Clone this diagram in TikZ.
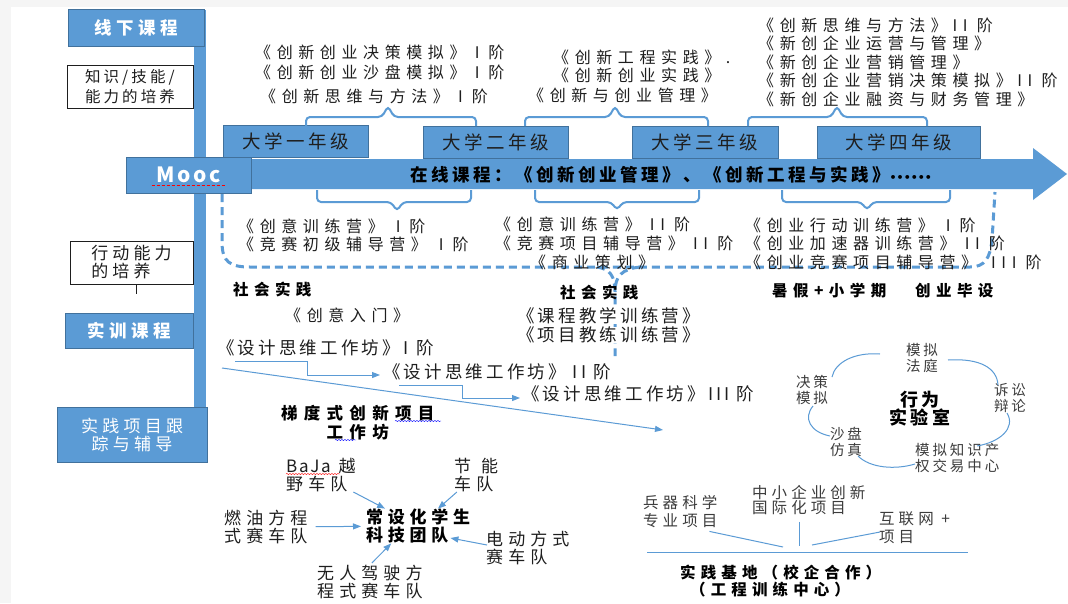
\documentclass[tikz,border=0pt]{standalone}
\usepackage{fontspec}
\setmainfont{Noto Sans CJK SC}
\newfontfamily\dejavu{DejaVu Sans}
\usetikzlibrary{arrows.meta, decorations.pathmorphing}

\definecolor{boxblue}{RGB}{91,155,213}
\definecolor{boxedge}{RGB}{65,113,156}
\definecolor{darktxt}{RGB}{30,30,30}
\definecolor{greytxt}{RGB}{60,60,60}

\tikzset{
  bluebox/.style={draw=boxedge, fill=boxblue, line width=0.8pt, text=white, inner sep=0pt, align=center,
    font=\fontsize{17.5}{18}\selectfont\bfseries\addfontfeature{LetterSpace=25}},
  yearbox/.style={draw=boxedge, fill=boxblue, line width=0.8pt, text=darktxt, inner sep=0pt,
    minimum height=32, font=\fontsize{18.5}{20}\selectfont\addfontfeature{LetterSpace=19}},
  whitebox/.style={draw=darktxt, line width=0.8pt, inner sep=0pt, align=left, text=darktxt},
  course/.style={anchor=west, inner sep=0pt, text=darktxt,
    font=\fontsize{16}{18}\selectfont\addfontfeature{LetterSpace=35}},
  workshop/.style={anchor=west, inner sep=0pt, text=darktxt,
    font=\fontsize{17.5}{19}\selectfont\addfontfeature{LetterSpace=18}},
  boldlabel/.style={anchor=west, inner sep=0pt, text=black, align=center,
    font=\fontsize{15.5}{19}\selectfont\bfseries\addfontfeature{LetterSpace=35}},
  teamtext/.style={anchor=west, inner sep=0pt, text=darktxt, align=left,
    font=\fontsize{17}{18}\selectfont\addfontfeature{LetterSpace=30}},
  labtext/.style={inner sep=0pt, text=greytxt, align=left,
    font=\fontsize{14.5}{16}\selectfont\addfontfeature{LetterSpace=20}},
  basetext/.style={anchor=west, inner sep=0pt, text=greytxt, align=left,
    font=\fontsize{15.5}{18}\selectfont\addfontfeature{LetterSpace=26}},
  yearbrace/.style={draw=boxblue, line width=2pt, rounded corners=4pt},
  dashline/.style={draw=boxblue, line width=3pt, dash pattern=on 8pt off 5pt},
  arr/.style={draw=boxblue, line width=1pt, -{Triangle[length=8pt,width=6pt]}},
  thinline/.style={draw=boxblue, line width=1pt},
}

\begin{document}
\begin{tikzpicture}[x=1pt, y=-1pt]
  \useasboundingbox (0,0) rectangle (1068,603);
  \fill[white] (0,0) rectangle (1068,603);
  \fill[black!4] (0,0) rectangle (1068,7);
  \fill[black!4] (0,0) rectangle (11,603);

  % Barra vertical
  \fill[boxblue] (194,10) rectangle (206,462);

  % Cajas de la izquierda
  \node[bluebox, minimum width=136, minimum height=37] (offline) at (136,27.5) {线下课程};
  \node[whitebox, minimum width=126, minimum height=43,
        font=\fontsize{15.5}{20}\selectfont\addfontfeature{LetterSpace=20}] (knowbox) at (130,86.5) {知识/技能/\\能力的培养};
  \node[whitebox, minimum width=123, minimum height=43,
        font=\fontsize{17}{18}\selectfont\addfontfeature{LetterSpace=24}] (actbox) at (131.5,262.5) {行动能力\\的培养};
  \draw[darktxt, line width=0.8pt] (actbox.south) ++(5,0) -- ++(0,10);
  \node[bluebox, minimum width=128, minimum height=35] (training) at (129,330.5) {实训课程};
  \node[bluebox, minimum width=150, minimum height=55,
        font=\fontsize{17}{18}\selectfont\addfontfeature{LetterSpace=25}] (tracking) at (132,434.5) {实践项目跟\\踪与辅导};

  % Flecha principal
  \fill[boxblue] (246,159) -- (1033,159) -- (1033,148) -- (1067,174) -- (1033,200) -- (1033,189) -- (246,189) -- cycle;
  \node[anchor=west, inner sep=0pt, text=black,
        font=\fontsize{17.5}{18}\selectfont\bfseries\addfontfeature{LetterSpace=20}] (online) at (410,175)
        {在线课程：《创新创业管理》、《创新工程与实践》{\dejavu\fontsize{11}{12}\selectfont ••••••}};

  % Mooc
  \node[bluebox, minimum width=125, minimum height=36,
        font=\fontsize{21}{22}\selectfont\bfseries\addfontfeature{LetterSpace=12}] (mooc) at (188.5,175) {Mooc};
  \draw[red, densely dashed, line width=0.8pt] ([shift={(-37,10)}]mooc.center) -- ([shift={(37,10)}]mooc.center);

  % Cursos por año
  \node[yearbox, minimum width=145] (year1) at (295.5,141.5) {大学一年级};
  \node[yearbox, minimum width=145] (year2) at (495.5,142) {大学二年级};
  \node[yearbox, minimum width=146] (year3) at (705,142) {大学三年级};
  \node[yearbox, minimum width=163] (year4) at (898.5,142) {大学四年级};

  % Llaves de arriba
  \draw[yearbrace] (306,126) -- (306,117) -- (382,117) -- (388,106) -- (394,117) -- (476,117) -- (476,126);
  \draw[yearbrace] (525,126) -- (525,117) -- (609,117) -- (615,106) -- (621,117) -- (708,117) -- (708,126);
  \draw[yearbrace] (748,126) -- (748,117) -- (831,117) -- (837,106) -- (843,117) -- (927,117) -- (927,126);

  % Llaves de abajo
  \draw[yearbrace] (317,190) -- (317,202) -- (391,202) -- (397,211) -- (403,202) -- (471,202) -- (471,190);
  \draw[yearbrace] (535,190) -- (535,202) -- (611,202) -- (617,210) -- (623,202) -- (699,202) -- (699,190);
  \draw[yearbrace] (782,190) -- (782,202) -- (861,202) -- (867,210) -- (873,202) -- (950,202) -- (950,190);

  % Contorno discontinuo
  \draw[dashline] (222,194) -- (222,242) .. controls (222,262) and (230,267) .. (250,267) -- (970,267)
        .. controls (985,267) and (990,258) .. (992,240) -- (995,192);
  \draw[dashline] (597,267) .. controls (610,269) and (615,276) .. (615,292) -- (615,356);
  \draw[dashline] (640,267) .. controls (622,269) and (615,276) .. (615,292);

  % Cursos de arriba
  \node[course] (c1a) at (255,52) {《创新创业决策模拟》 I\hspace{9pt}阶};
  \node[course] (c1b) at (255,72) {《创新创业沙盘模拟》 I\hspace{9pt}阶};
  \node[course] (c1c) at (260,96) {《创新思维与方法》 I\hspace{9pt}阶};
  \node[course] (c2a) at (553,57) {《创新工程实践》.};
  \node[course] (c2b) at (553,75) {《创新创业实践》};
  \node[course] (c2c) at (528,95) {《创新与创业管理》};
  \node[course] (c3a) at (758,25) {《创新思维与方法》II 阶};
  \node[course] (c3b) at (758,43.5) {《新创企业运营与管理》};
  \node[course] (c3c) at (758,62) {《新创企业营销管理》};
  \node[course] (c3d) at (758,80.5) {《新创企业营销决策模拟》II 阶};
  \node[course] (c3e) at (758,99) {《新创企业融资与财务管理》};

  % Cursos de abajo
  \node[course] (d1a) at (238,226) {《创意训练营》\hspace{12pt}I\hspace{9pt}阶};
  \node[course] (d1b) at (238,244) {《竞赛初级辅导营》\hspace{12pt}I\hspace{9pt}阶};
  \node[course] (d2a) at (495,224) {《创意训练营》 II 阶};
  \node[course] (d2b) at (495,243) {《竞赛项目辅导营》 II 阶};
  \node[course] (d2c) at (530,262) {《商业策划》};
  \node[course] (d3a) at (745,225) {《创业行动训练营》\hspace{12pt}I\hspace{9pt}阶};
  \node[course] (d3b) at (745,243) {《创业加速器训练营》 II 阶};
  \node[course] (d3c) at (745,262) {《创业竞赛项目辅导营》\hspace{14pt}III 阶};

  % Prácticas
  \node[boldlabel] (social1) at (233,289) {社会实践};
  \node[boldlabel] (social2) at (560,292) {社会实践};
  \node[boldlabel] (summer) at (772,291) {暑假+小学期};
  \node[boldlabel] (thesis) at (915,291) {创业毕设};
  \node[course] (intro) at (285,315) {《创意入门》};
  \node[workshop, fill=white] (camp1) at (517,316) {《课程教学训练营》};
  \node[workshop, fill=white] (camp2) at (517,335) {《项目教练训练营》};

  % Talleres de pensamiento de diseño
  \node[workshop] (dt1) at (217,348) {《设计思维工作坊》I\hspace{8pt}阶};
  \node[workshop] (dt2) at (383,372) {《设计思维工作坊》 II 阶};
  \node[workshop] (dt3) at (522,394) {《设计思维工作坊》III 阶};
  \draw[arr] ([shift={(18,13)}]dt1.west) -- ++(72,0) |- ([shift={(-3,3)}]dt2.west);
  \draw[arr] ([shift={(16,13)}]dt2.west) -- ++(63,0) |- ([shift={(-2,4)}]dt3.west);
  \coordinate (diagend) at (663,430);
  \draw[arr] ([shift={(5,20)}]dt1.west) -- (diagend);

  \node[boldlabel, font=\fontsize{16.5}{19}\selectfont\bfseries\addfontfeature{LetterSpace=38}] (ladder) at (281,422.5) {梯度式创新项目\\工作坊};
  \draw[blue, decorate, decoration={snake, amplitude=0.6pt, segment length=3pt}] (395,421) -- (441,421);
  \draw[blue, decorate, decoration={snake, amplitude=0.6pt, segment length=3pt}] (335,440) -- (356,440);

  % Equipos
  \node[teamtext] (baja) at (286,475) {{\addfontfeature{LetterSpace=10}BaJa}\hspace{8pt}越\\野车队};
  \draw[red, decorate, decoration={snake, amplitude=0.6pt, segment length=3pt}] (286,474) -- (340,474);
  \node[teamtext] (energy) at (454,475) {节\hspace{10pt}能\\车队};
  \node[teamtext] (fuel) at (224,527) {燃油方程\\式赛车队};
  \node[boldlabel, align=left, font=\fontsize{17}{18}\selectfont\bfseries\addfontfeature{LetterSpace=28}] (techteam) at (366,526) {常设化学生\\科技团队};
  \node[teamtext] (electric) at (486,548) {电动方式\\赛车队};
  \node[teamtext] (driverless) at (317,582) {无人驾驶方\\程式赛车队};
  \draw[arr] (baja) -- (techteam);
  \draw[arr] (energy) -- (techteam);
  \draw[arr, shorten <=8pt, shorten >=5pt] (fuel) -- (techteam);
  \draw[arr] ([shift={(1,-3)}]electric.west) -- ([shift={(-20,12)}]techteam.east);
  \draw[arr] ([shift={(2,-2)}]driverless.north) -- ([shift={(-27,0)}]techteam.south);

  % Laboratorio
  \node[labtext, align=center, text=black, font=\fontsize{18}{18}\selectfont\bfseries\addfontfeature{LetterSpace=17}] (lab) at (920,409) {行为\\实验室};
  \node[labtext] (court) at (922,358) {模拟\\法庭};
  \node[labtext] (debate) at (1010,398) {诉讼\\辩论};
  \node[labtext, anchor=west] (ipcenter) at (915,458) {模拟知识产\\权交易中心};
  \node[labtext] (sandbox) at (846,442) {沙盘\\仿真};
  \node[labtext] (decision) at (812,390) {决策\\模拟};
  \draw[thinline] (880,354) .. controls (855,352) and (835,362) .. (832,377);
  \draw[thinline] (948,360) .. controls (980,358) and (997,368) .. (998,385);
  \draw[thinline] (1007,413) .. controls (1016,428) and (1000,442) .. (977,446);
  \draw[thinline] (858,456) .. controls (870,468) and (895,470) .. (915,464);
  \draw[thinline] (813,406) .. controls (803,418) and (810,432) .. (830,436);

  % Base de prácticas
  \node[basetext] (weapon) at (643,512) {兵器科学\\专业项目};
  \node[basetext] (sme) at (752,500) {中小企业创新\\[-3pt]国际化项目};
  \node[basetext] (internet) at (879,528) {互联网 +\\项目};
  \coordinate (hub1) at (783,547);
  \coordinate (hub2) at (799,546);
  \coordinate (hub3) at (812,545);
  \draw[thinline] ([shift={(-8,3)}]weapon.south east) -- (hub1);
  \draw[thinline] ([shift={(47,7)}]sme.south west) -- (hub2);
  \draw[thinline] ([shift={(1,4)}]internet.west) -- (hub3);
  \coordinate (baseleft) at (647,552);
  \coordinate (baseright) at (968,552);
  \draw[thinline] (baseleft) -- (baseright);
  \node[boldlabel, font=\fontsize{15.5}{18}\selectfont\bfseries\addfontfeature{LetterSpace=33}] (base1) at (680,573) {实践基地（校企合作）};
  \node[boldlabel, font=\fontsize{15.5}{18}\selectfont\bfseries\addfontfeature{LetterSpace=33}] (base2) at (690,590) {（工程训练中心）};

\end{tikzpicture}
\end{document}
